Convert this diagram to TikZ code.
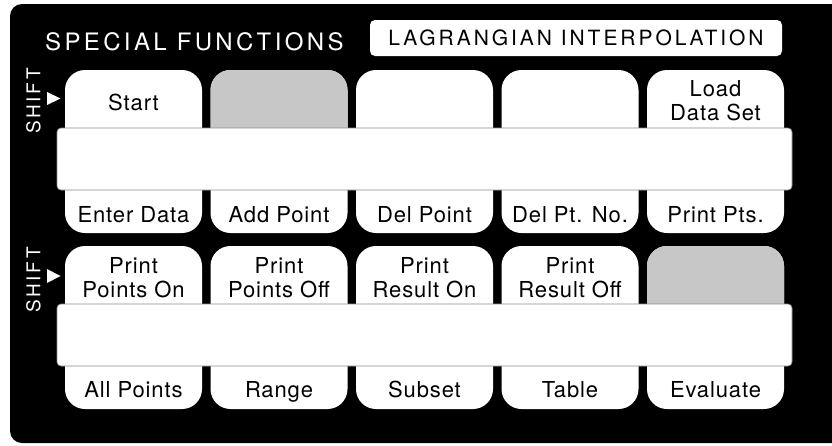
\documentclass[tikz,border=0pt]{standalone}
\usepackage{fontspec}
\newfontfamily\keyfont[LetterSpace=4]{TeX Gyre Heros}
\newfontfamily\panelfont[LetterSpace=14]{TeX Gyre Heros}

\begin{document}
\begin{tikzpicture}[x=1pt, y=-1pt,
  key/.style={fill=white, rounded corners=20pt},
  blank/.style={fill=black!22, rounded corners=20pt},
  bar/.style={fill=white, draw=black!45, line width=0.6pt, rounded corners=4pt},
  label/.style={font=\keyfont\fontsize{22}{23.5}\selectfont, align=center, inner sep=0pt, anchor=base},
  shiftlabel/.style={font=\panelfont\fontsize{19}{20}\selectfont, text=white, rotate=90, inner sep=0pt}]

\clip (0, 0) rectangle (832, 445);
\fill[rounded corners=12pt] (10, 4) rectangle (860, 443);

\node[anchor=base west, text=white, inner sep=0pt, font=\panelfont\fontsize{24}{26}\selectfont] (title) at (45, 50) {SPECIAL FUNCTIONS};
\fill[white, rounded corners=5pt] (370, 20) rectangle (782, 56);
\node[inner sep=0pt, font=\panelfont\fontsize{21}{24}\selectfont] (program) at (576, 38) {LAGRANGIAN INTERPOLATION};

% first row
\node[shiftlabel] (shift1) at (33.5, 101) {SHIFT};
\fill[white] (47, 92) -- (60.5, 98.5) -- (47, 105) -- cycle;

\fill[key] (65, 70) rectangle (202, 233);
\fill[key] (210.5, 70) rectangle (347.5, 233);
\fill[key] (356, 70) rectangle (493, 233);
\fill[key] (501.5, 70) rectangle (638.5, 233);
\fill[key] (647, 70) rectangle (784, 233);
\begin{scope}
\clip (210.5, 70) rectangle (347.5, 128);
\fill[blank] (210.5, 70) rectangle (347.5, 233);
\end{scope}
\draw[bar] (57, 128) rectangle (792, 190);

\node[label] (start) at (133.5, 110) {Start};
\node[label] (load) at (715.5, 120) {Load\\Data Set};
%
\node[label] (enter) at (133.5, 222) {Enter Data};
\node[label] (add) at (279, 222) {Add Point};
\node[label] (del) at (424.5, 222) {Del Point};
\node[label] (delno) at (570, 222) {Del Pt. No.};
\node[label] (printpts) at (715.5, 222) {Print Pts.};

% second row
\node[shiftlabel] (shift2) at (33.5, 280) {SHIFT};
\fill[white] (47, 269) -- (60.5, 276) -- (47, 283) -- cycle;

\fill[key] (65, 246) rectangle (202, 409);
\fill[key] (210.5, 246) rectangle (347.5, 409);
\fill[key] (356, 246) rectangle (493, 409);
\fill[key] (501.5, 246) rectangle (638.5, 409);
\fill[key] (647, 246) rectangle (784, 409);
\begin{scope}
\clip (647, 246) rectangle (784, 304);
\fill[blank] (647, 246) rectangle (784, 409);
\end{scope}
\draw[bar] (57, 304) rectangle (792, 366);

\node[label] (pointson) at (133.5, 297) {Print\\Points On};
\node[label] (pointsoff) at (279, 297) {Print\\Points Off};
\node[label] (resulton) at (424.5, 297) {Print\\Result On};
\node[label] (resultoff) at (570, 297) {Print\\Result Off};
%
\node[label] (all) at (133.5, 397) {All Points};
\node[label] (range) at (279, 397) {Range};
\node[label] (subset) at (424.5, 397) {Subset};
\node[label] (table) at (570, 397) {Table};
\node[label] (evaluate) at (715.5, 397) {Evaluate};

\end{tikzpicture}
\end{document}
